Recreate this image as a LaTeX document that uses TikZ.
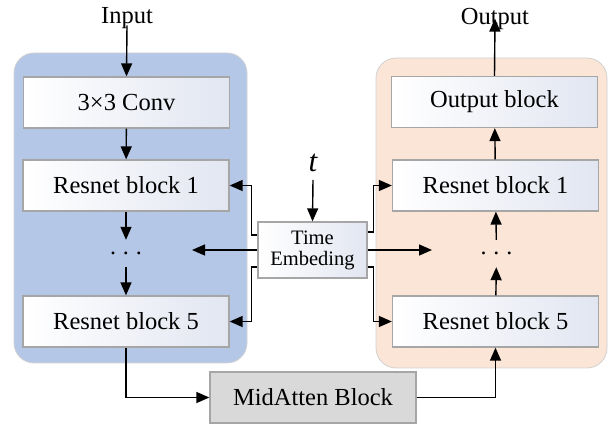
\documentclass[tikz,border=0pt]{standalone}
\usepackage{fontspec}
\setmainfont{Liberation Serif}
\usetikzlibrary{arrows.meta}
\definecolor{panelblue}{RGB}{180,199,231}
\definecolor{panelorange}{RGB}{251,229,214}
\definecolor{boxedge}{RGB}{166,166,166}
\definecolor{boxshade}{RGB}{226,230,241}
\definecolor{midgray}{RGB}{217,217,217}
\tikzset{
  panel/.style={draw=black!18, line width=0.8pt, rounded corners=20pt},
  blockbox/.style={draw=boxedge, line width=1.3pt, left color=white, right color=boxshade,
    minimum width=206pt, minimum height=51pt, inner sep=0pt, font=\fontsize{24.5}{28}\selectfont},
  tebox/.style={draw=boxedge, line width=1.3pt, left color=white, right color=boxshade,
    minimum width=109pt, minimum height=56pt, inner sep=0pt, align=center,
    font=\fontsize{20.5}{24}\selectfont},
  midbox/.style={draw=boxedge, line width=1.3pt, fill=midgray,
    minimum width=206pt, minimum height=51pt, inner sep=0pt, font=\fontsize{24.5}{28}\selectfont},
  dotsnode/.style={minimum width=40pt, minimum height=27pt, inner sep=0pt, font=\fontsize{24}{28}\selectfont},
  lbl/.style={inner sep=0pt, font=\fontsize{24.5}{28}\selectfont},
  arr/.style={line width=1.4pt, -{Triangle[length=13pt,width=11pt]}},
}
\begin{document}
\begin{tikzpicture}[x=1pt,y=-1pt]
\useasboundingbox (0,0) rectangle (616,427);
% panels
\draw[panel, fill=panelblue] (14,53) rectangle (247,363);
\draw[panel, fill=panelorange] (376,58) rectangle (607,368);
% left column
\node[lbl, anchor=base] (input) at (127,24) {Input};
\node[blockbox] (conv) at (126.5,102.5) {3×3 Conv};
\node[blockbox] (lrb1) at (126,185.5) {Resnet block 1};
\node[dotsnode] (ld) at (126,253.5) {.\hspace{7pt}.\hspace{7pt}.};
\node[blockbox] (lrb5) at (126,321.5) {Resnet block 5};
% right column
\node[lbl, anchor=base] (output) at (495,25) {Output};
\node[blockbox] (outb) at (494.5,102) {Output block};
\node[blockbox] (rrb1) at (495.5,185.5) {Resnet block 1};
\node[dotsnode] (rd) at (496.5,253.5) {.\hspace{7pt}.\hspace{7pt}.};
\node[blockbox] (rrb5) at (495.5,321.5) {Resnet block 5};
% middle
\node[inner sep=0pt, font=\fontsize{31}{34}\selectfont\itshape] (t) at (313,163) {t};
\node[tebox] (te) at (312.5,250) {Time\\[-3pt]Embeding};
\node[midbox] (mid) at (313,397.5) {MidAtten Block};
\coordinate (lm) at (192,250);
\coordinate (rm) at (432,250);
% connectors
\draw[arr] (input.south) ++(0,-4) -- (conv.north);
\draw[arr] (conv) -- (lrb1);
\draw[arr] (lrb1) -- (ld);
\draw[arr] (ld) -- (lrb5);
\draw[arr] (lrb5.south) |- (mid.west);
\draw[arr] (mid.east) -| (rrb5.south);
\draw[arr] (rrb5) -- (rd);
\draw[arr] (rd) -- (rrb1);
\draw[arr] (rrb1) -- (outb);
\draw[arr] (outb.north) -- ([yshift=-10pt]output.north);
\draw[arr] ([yshift=-17pt]t.center) -- (te.north);
\draw[arr] ([yshift=15pt]te.west) -- ++(-6,0) |- (lrb1.east);
\draw[arr] ([yshift=-17pt]te.west) -- ++(-6,0) |- (lrb5.east);
\draw[arr] (te.west) -- (lm);
\draw[arr] ([yshift=18pt]te.east) -- ++(6,0) |- (rrb1.west);
\draw[arr] ([yshift=-17pt]te.east) -- ++(6,0) |- (rrb5.west);
\draw[arr] (te.east) -- (rm);
\end{tikzpicture}
\end{document}
